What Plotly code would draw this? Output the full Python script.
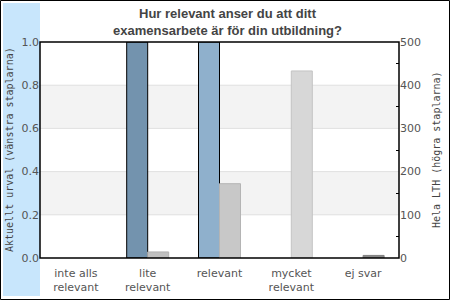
import plotly.graph_objects as go

categories = ["inte alls<br>relevant", "lite<br>relevant", "relevant", "mycket<br>relevant", "ej svar"]
urval = [0, 1.0, 1.0, 0, 0]
hela_lth = [0, 14, 172, 433, 6]
urval_colors = ["#7393ae", "#7393ae", "#8fb0cc", "#8fb0cc", "#8fb0cc"]
lth_colors = ["#c0c0c0", "#c0c0c0", "#c8c8c8", "#d7d7d7", "#8a8a8a"]
lth_lines = ["#b0b0b0", "#b0b0b0", "#b4b4b4", "#c4c4c4", "#808080"]
left_ticks = [0, 0.2, 0.4, 0.6, 0.8, 1.0]
right_ticks = [0, 100, 200, 300, 400, 500]

W, H = 450, 300
L, R, T, B = 40, 51, 42, 42
pw, ph = W - L - R, H - T - B

def px_x(x):
    return (x - L) / pw

def px_y(y):
    return (H - B - y) / ph

fig = go.Figure()
fig.add_trace(go.Bar(x=categories, y=urval, yaxis="y", offsetgroup="1",
                     marker=dict(color=urval_colors,
                                 line=dict(color="black", width=[1 if v > 0 else 0 for v in urval])),
                     showlegend=False))
fig.add_trace(go.Bar(x=categories, y=hela_lth, yaxis="y2", offsetgroup="2",
                     marker=dict(color=lth_colors,
                                 line=dict(color=lth_lines, width=[1 if v > 0 else 0 for v in hela_lth])),
                     showlegend=False))

shapes = [
    # light blue strip on the left
    dict(type="rect", xref="paper", yref="paper", x0=px_x(3), x1=px_x(40), y0=px_y(296), y1=px_y(3),
         fillcolor="#c8e6fc", line=dict(width=0), layer="below"),
    # outer border
    dict(type="rect", xref="paper", yref="paper", x0=px_x(0.5), x1=px_x(449.5), y0=px_y(299.5), y1=px_y(0.5),
         fillcolor="rgba(0,0,0,0)", line=dict(color="black", width=1)),
    # grid bands
    dict(type="rect", xref="paper", yref="y", x0=0, x1=1, y0=0.2, y1=0.4,
         fillcolor="#f3f3f3", line=dict(width=0), layer="below"),
    dict(type="rect", xref="paper", yref="y", x0=0, x1=1, y0=0.6, y1=0.8,
         fillcolor="#f3f3f3", line=dict(width=0), layer="below"),
]
for v in [0.2, 0.4, 0.6, 0.8]:
    shapes.append(dict(type="line", xref="paper", yref="y", x0=0, x1=1, y0=v, y1=v,
                       line=dict(color="#e0e0e0", width=1), layer="below"))
# plot frame
shapes.append(dict(type="rect", xref="paper", yref="paper", x0=0, x1=1, y0=0, y1=1,
                   fillcolor="rgba(0,0,0,0)", line=dict(color="black", width=1.5)))

tickfont = dict(family="DejaVu Sans", size=11, color="#555555")

fig.update_layout(
    width=W, height=H,
    margin=dict(l=L, r=R, t=T, b=B, autoexpand=False),
    paper_bgcolor="white", plot_bgcolor="white",
    barmode="group", bargap=0.415, bargroupgap=0,
    xaxis=dict(showgrid=False, tickfont=tickfont, showline=False, ticks="",
               ticklabelstandoff=7, automargin=False, fixedrange=True),
    yaxis=dict(range=[0, 1], tickvals=left_ticks, ticktext=[f"{v:.1f}" for v in left_ticks],
               showgrid=False, zeroline=False, showline=False, tickfont=tickfont, ticks="",
               automargin=False),
    yaxis2=dict(range=[0, 500], tickvals=right_ticks, overlaying="y", side="right",
                showgrid=False, zeroline=False, showline=False, tickfont=tickfont,
                ticks="", automargin=False,
                minor=dict(ticks="inside", tickvals=[50, 150, 250, 350, 450],
                           ticklen=3, tickcolor="black")),
    shapes=shapes,
    annotations=[
        dict(text="<b>Hur relevant anser du att ditt<br>examensarbete är för din utbildning?</b>",
             xref="paper", yref="paper", x=px_x(227), y=px_y(4), xanchor="center", yanchor="top",
             showarrow=False, align="center",
             font=dict(family="Liberation Sans", size=13, color="#444444")),
        dict(text="Aktuellt urval (vänstra staplarna)", xref="paper", yref="paper",
             x=px_x(9), y=0.5, textangle=-90, showarrow=False, xanchor="center", yanchor="middle",
             font=dict(family="DejaVu Sans Mono", size=10, color="#444444")),
        dict(text="Hela LTH (högra staplarna)", xref="paper", yref="paper",
             x=px_x(436), y=0.5, textangle=-90, showarrow=False, xanchor="center", yanchor="middle",
             font=dict(family="DejaVu Sans Mono", size=10, color="#444444")),
    ],
)

fig.write_html("out.html")
